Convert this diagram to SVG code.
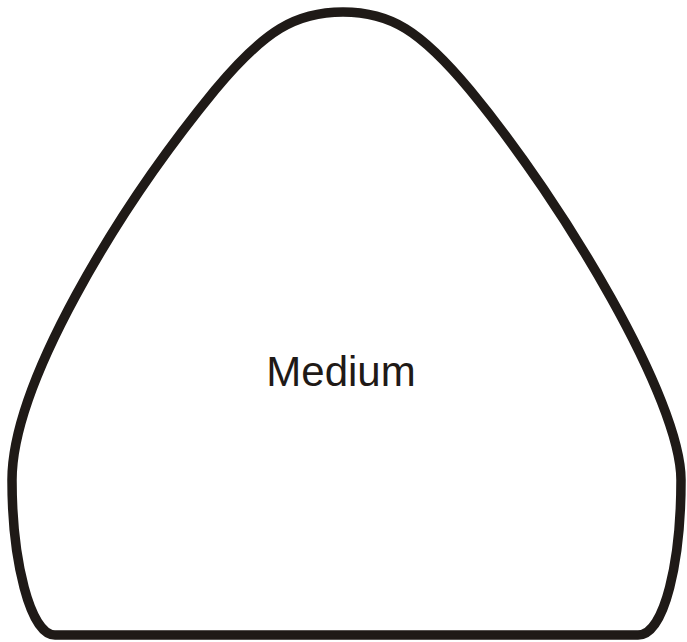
<svg xmlns="http://www.w3.org/2000/svg" width="687" height="642" viewBox="0 0 687 642">
<style>
.shape{fill:#ffffff;stroke:#1f1a17;stroke-width:9.5;stroke-linejoin:round}
.lbl{font-family:"Liberation Sans",Arial,sans-serif;font-size:42px;fill:#1f1a17;text-anchor:middle}
</style>
<rect width="687" height="642" fill="#ffffff"/>
<g id="medium">
<path class="shape" d="M 55,635 L 638,635 C 665,635 681,560 681,480 C 681,400 565,205 470,90 C 420,30 390,12 343,12 C 296,12 265,30 215,90 C 115,212 12,385 12,480 C 12,560 30,635 55,635 Z"/>
<text class="lbl" x="341" y="386">Medium</text>
</g>
<g id="connectors"/>
</svg>
